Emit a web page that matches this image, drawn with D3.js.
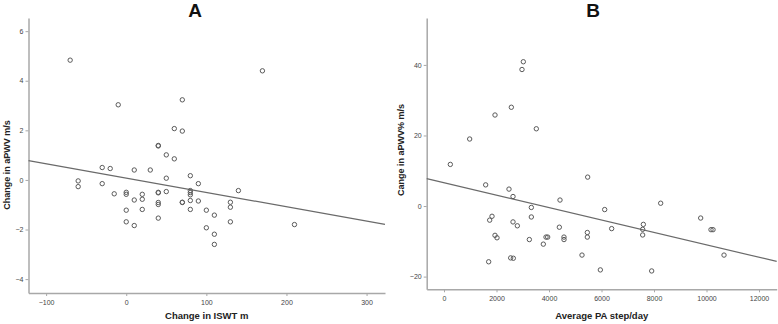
<!DOCTYPE html>
<html>
<head>
<meta charset="utf-8">
<script src="https://cdn.jsdelivr.net/npm/d3@7"></script>
<style>
  html, body { margin: 0; padding: 0; background: #ffffff; }
  svg { display: block; font-family: Arial, "Liberation Sans", sans-serif; }
</style>
</head>
<body>
<div id="chart"></div>
<script>
// Panel A: change in ISWT (m) vs change in aPWV (m/s)
const panelAX = [-70, 170, -10, 70, 60, 70, 40, 40, 50, 60, -30, -20, 10, 30, 50, 80, -60, -60, -30, 90,
  140, -15, 0, 0, 20, 20, 10, 40, 40, 50, 80, 80, 80, 40, 40, 70, 70, 80, 90, 130,
  130, 0, 20, 80, 100, 110, 40, 0, 130, 10, 100, 210, 110, 110];
const panelAY = [4.83, 4.40, 3.03, 3.23, 2.07, 1.97, 1.37, 1.39, 1.01, 0.85, 0.50, 0.46, 0.40, 0.40, 0.07, 0.17, -0.04, -0.27, -0.15, -0.15,
  -0.43, -0.56, -0.50, -0.58, -0.58, -0.78, -0.81, -0.50, -0.52, -0.47, -0.43, -0.51, -0.60, -0.91, -0.99, -0.90, -0.91, -0.83, -0.85, -0.90,
  -1.10, -1.22, -1.19, -1.19, -1.22, -1.42, -1.54, -1.69, -1.69, -1.84, -1.93, -1.80, -2.19, -2.60];
const panelAXTicks = [-100, 0, 100, 200, 300];
const panelAYTicks = [-4, -2, 0, 2, 4, 6];
const panelAFit = { intercept: 0.075, slope: -0.00578 };

// Panel B: average PA steps/day vs change in aPWV (%)
const panelBX = [3022, 2971, 2565, 1943, 3517, 978, 241, 5473, 1587, 2476, 2629, 4419, 8254, 3327, 6121, 1829, 1740, 3327, 9778, 2629,
  2794, 4394, 6387, 7594, 7568, 7568, 5460, 5460, 10171, 10248, 1943, 2019, 3886, 3949, 4571, 4571, 3251, 3784, 5257, 2540,
  2641, 10667, 1702, 5956, 7911];
const panelBY = [40.9, 38.7, 28.0, 25.8, 21.9, 19.0, 11.8, 8.2, 6.0, 4.8, 2.7, 1.7, 0.8, -0.4, -1.0, -2.9, -4.0, -3.1, -3.4, -4.5,
  -5.6, -6.0, -6.4, -5.2, -6.6, -8.2, -7.5, -8.8, -6.7, -6.7, -8.3, -9.0, -8.8, -8.8, -8.8, -9.5, -9.5, -10.8, -13.9, -14.7,
  -14.8, -13.9, -15.8, -18.1, -18.4];
const panelBXTicks = [0, 2000, 4000, 6000, 8000, 10000, 12000];
const panelBYTicks = [-20, 0, 20, 40];
const panelBFit = { intercept: 6.6, slope: -0.00176 };

const width = 778;
const height = 324;

const svg = d3.select("#chart")
  .append("svg")
  .attr("width", width)
  .attr("height", height);

function drawPanel(opts) {
  const x = d3.scaleLinear().domain(opts.xDomain).range([opts.left, opts.right]);
  const y = d3.scaleLinear().domain(opts.yDomain).range([opts.bottom, opts.top]);
  const g = svg.append("g");

  // bottom axis
  g.append("g")
    .attr("transform", `translate(0,${opts.bottom})`)
    .call(d3.axisBottom(x).tickValues(opts.xTicks).tickFormat(d3.format("d"))
      .tickSize(3).tickSizeOuter(0).tickPadding(4))
    .call((a) => a.select(".domain").attr("stroke", "#a8a8a8").attr("stroke-width", 1.5))
    .call((a) => a.selectAll(".tick line").attr("stroke", "#a8a8a8"))
    .call((a) => a.selectAll("text")
      .attr("fill", "#444")
      .style("font-size", "7px")
      .style("font-family", "Arial, 'Liberation Sans', sans-serif"));

  // left axis
  g.append("g")
    .attr("transform", `translate(${opts.left},0)`)
    .call(d3.axisLeft(y).tickValues(opts.yTicks).tickFormat(d3.format("d"))
      .tickSize(3).tickSizeOuter(0).tickPadding(2))
    .call((a) => a.select(".domain").attr("stroke", "#a8a8a8").attr("stroke-width", 1.5))
    .call((a) => a.selectAll(".tick line").attr("stroke", "#a8a8a8"))
    .call((a) => a.selectAll("text")
      .attr("fill", "#444")
      .style("font-size", "7px")
      .style("font-family", "Arial, 'Liberation Sans', sans-serif"));

  // regression line across the full x range
  const [x0, x1] = opts.xDomain;
  g.append("line")
    .attr("x1", x(x0))
    .attr("y1", y(opts.fit.intercept + opts.fit.slope * x0))
    .attr("x2", x(x1))
    .attr("y2", y(opts.fit.intercept + opts.fit.slope * x1))
    .attr("stroke", "#6a6a6a")
    .attr("stroke-width", 1.2);

  g.selectAll("circle")
    .data(opts.xs.map((v, i) => [v, opts.ys[i]]))
    .enter()
    .append("circle")
    .attr("cx", (d) => x(d[0]))
    .attr("cy", (d) => y(d[1]))
    .attr("r", 2.2)
    .attr("fill", "none")
    .attr("stroke", "#5a5a5a")
    .attr("stroke-width", 1);

  // panel letter
  g.append("text")
    .attr("x", opts.titleX)
    .attr("y", 17)
    .attr("text-anchor", "middle")
    .attr("font-size", 19)
    .attr("font-weight", 700)
    .attr("fill", "#111")
    .text(opts.title);

  g.append("text")
    .attr("x", (opts.left + opts.right) / 2)
    .attr("y", 319)
    .attr("text-anchor", "middle")
    .attr("font-size", 9.5)
    .attr("font-weight", 700)
    .attr("fill", "#222")
    .text(opts.xLabel);

  g.append("text")
    .attr("transform", `translate(${opts.yLabelX},${opts.yLabelY}) rotate(-90)`)
    .attr("text-anchor", "middle")
    .attr("font-size", 9)
    .attr("font-weight", 700)
    .attr("fill", "#222")
    .text(opts.yLabel);
}

drawPanel({
  xs: panelAX, ys: panelAY,
  xDomain: [-122, 323], yDomain: [-4.56, 6.53],
  xTicks: panelAXTicks, yTicks: panelAYTicks,
  fit: panelAFit,
  left: 28.5, right: 385, top: 18, bottom: 293,
  title: "A", titleX: 195,
  xLabel: "Change in ISWT m",
  yLabel: "Change in aPWV m/s", yLabelX: 9.5, yLabelY: 165
});

drawPanel({
  xs: panelBX, ys: panelBY,
  xDomain: [-659, 12674], yDomain: [-23.6, 53.3],
  xTicks: panelBXTicks, yTicks: panelBYTicks,
  fit: panelBFit,
  left: 426.7, right: 776.7, top: 18, bottom: 289.3,
  title: "B", titleX: 593,
  xLabel: "Average PA step/day",
  yLabel: "Cange in aPWV% m/s", yLabelX: 403.5, yLabelY: 150
});
</script>
</body>
</html>
